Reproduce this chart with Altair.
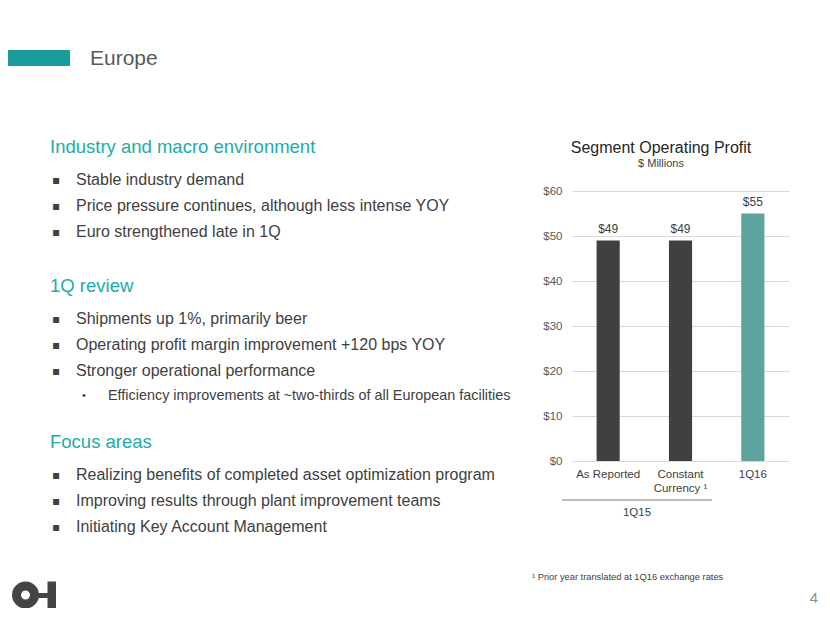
import altair as alt
import pandas as pd

# ---------------- data ----------------
categories = ["As Reported", "Constant Currency", "1Q16"]
profits = [49, 49, 55]
bar_colors = ["#404040", "#404040", "#5ca39d"]
y_ticks = [0, 10, 20, 30, 40, 50, 60]

chart_title = "Segment Operating Profit"
chart_subtitle = "$ Millions"
group_label = "1Q15"
footnote = "¹ Prior year translated at 1Q16 exchange rates"
slide_title = "Europe"
page_number = "4"

headings = ["Industry and macro environment", "1Q review", "Focus areas"]
section1 = ["Stable industry demand",
            "Price pressure continues, although less intense YOY",
            "Euro strengthened late in 1Q"]
section2 = ["Shipments up 1%, primarily beer",
            "Operating profit margin improvement +120 bps YOY",
            "Stronger operational performance"]
section2_sub = ["Efficiency improvements at ~two-thirds of all European facilities"]
section3 = ["Realizing benefits of completed asset optimization program",
            "Improving results through plant improvement teams",
            "Initiating Key Account Management"]

# ---------------- layout ----------------
FONT = "Liberation Sans"
TEAL = "#22aba8"
DARK = "#404040"
GREY = "#595959"
OX, OY = 572, 191          # page position of the plot origin
PLOT_W, PLOT_H = 217, 270
CANVAS_R, CANVAS_B = 820, 608  # page position of canvas right / bottom edge


def px(x):
    return x - OX


def py(y):
    return y - OY


one = pd.DataFrame({"a": [0]})


def txt(s, x, y, size, color=DARK, align="left", weight="normal", font=FONT):
    return alt.Chart(pd.DataFrame({"t": [s]})).mark_text(
        align=align, baseline="middle", fontSize=size, color=color,
        font=font, fontWeight=weight
    ).encode(x=alt.value(px(x)), y=alt.value(py(y)), text="t:N")


def box(x1, y1, x2, y2, color, opacity=1.0):
    return alt.Chart(one).mark_rect(color=color, opacity=opacity).encode(
        x=alt.value(px(x1)), x2=alt.value(px(x2)),
        y=alt.value(py(y1)), y2=alt.value(py(y2)))


df = pd.DataFrame({"cat": categories, "value": profits, "color": bar_colors})

x_enc = alt.X(
    "cat:N", sort=categories,
    scale=alt.Scale(paddingInner=0.68, paddingOuter=0.34),
    axis=alt.Axis(
        title=None, labelAngle=0, domain=False, ticks=False, tickSize=0,
        labelPadding=7, labelFontSize=11.5, labelColor=DARK, labelFont=FONT,
        labelLineHeight=14,
        labelExpr="datum.value == 'Constant Currency' ? ['Constant', 'Currency \u00b9'] : datum.value",
    ),
)
y_enc = alt.Y(
    "value:Q", scale=alt.Scale(domain=[0, 60]),
    axis=alt.Axis(
        title=None, values=y_ticks, format="$d", domain=False, ticks=False,
        tickSize=0, labelPadding=10, labelFontSize=11.5, labelColor=GREY,
        labelFont=FONT, grid=True, gridColor="#d9d9d9", gridWidth=1,
    ),
)

base = alt.Chart(df)
bars = base.mark_bar().encode(x=x_enc, y=y_enc, color=alt.Color("color:N", scale=None))
bar_labels = base.mark_text(dy=-11.5, fontSize=12, color=DARK, font=FONT, baseline="middle").encode(
    x=x_enc, y=y_enc, text=alt.Text("value:Q", format="$d"))

layers = [bars, bar_labels]

# chart titles and group label
layers.append(txt(chart_title, 661, 148, 16, "#262626", align="center"))
layers.append(txt(chart_subtitle, 661, 164, 11, DARK, align="center"))
layers.append(alt.Chart(one).mark_rule(color="#7f7f7f", strokeWidth=1).encode(
    x=alt.value(px(562)), x2=alt.value(px(712)), y=alt.value(py(500))))
layers.append(txt(group_label, 637, 513, 11.5, DARK, align="center"))

# slide header
layers.append(box(8, 50, 70, 66, "#1a9c9c"))
layers.append(txt(slide_title, 90, 59, 21, GREY))

# body text
sections = [(headings[0], 147, section1, [180, 206, 232], [], []),
            (headings[1], 286, section2, [319, 345, 371], section2_sub, [396]),
            (headings[2], 442, section3, [475, 501, 527], [], [])]
for head, hy, items, ys, subs, sys_ in sections:
    layers.append(txt(head, 50, hy, 18.5, TEAL))
    for s, y in zip(items, ys):
        layers.append(txt("\u25aa", 52, y, 12, DARK, font="DejaVu Sans"))
        layers.append(txt(s, 76, y, 16, DARK))
    for s, y in zip(subs, sys_):
        layers.append(txt("\u2022", 82, y, 11, DARK))
        layers.append(txt(s, 108, y, 14.4, DARK))

# footnote and page number
layers.append(txt(footnote, 532, 577, 9.3, DARK))
layers.append(txt(page_number, 818, 598, 15, "#8c8c8c", align="right"))

# logo
layers.append(alt.Chart(one).mark_point(
    shape="circle", filled=False, size=324, strokeWidth=9, color="#444444", opacity=1
).encode(x=alt.value(px(25.5)), y=alt.value(py(595))))
layers.append(box(37, 593, 48, 598, "#444444"))
layers.append(box(47.5, 581.5, 56, 608, "#444444"))

pad = {"left": OX - 8, "top": OY - 8,
       "right": CANVAS_R - OX - PLOT_W, "bottom": CANVAS_B - OY - PLOT_H}

chart = alt.layer(*layers).properties(
    width=PLOT_W, height=PLOT_H, padding=pad, autosize="none"
).configure_view(stroke=None)

chart.save("out.html", embed_options={"renderer": "svg", "actions": False})
